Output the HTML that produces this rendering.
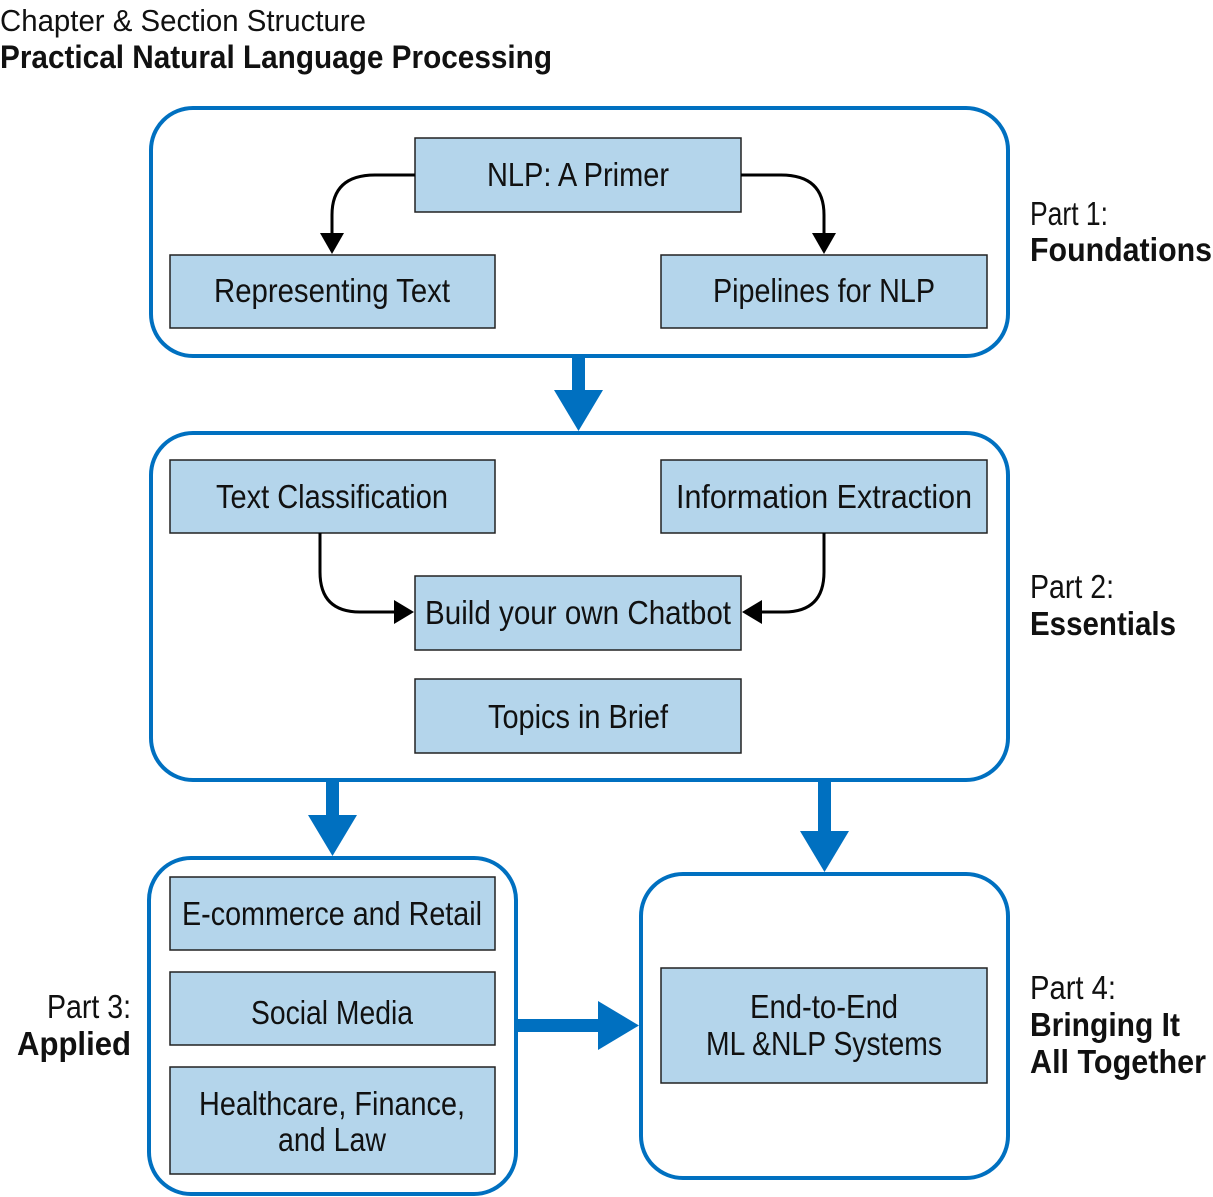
<!DOCTYPE html>
<html><head><meta charset="utf-8"><style>
html,body{margin:0;padding:0;background:#fff;}
svg{display:block;}
text{font-family:"Liberation Sans Narrow","Liberation Sans",sans-serif;fill:#111;}
.b{font-weight:bold;}
</style></head><body>
<svg width="1213" height="1197" viewBox="0 0 1213 1197" xmlns="http://www.w3.org/2000/svg">
<text x="0" y="31" font-size="31" textLength="366" lengthAdjust="spacingAndGlyphs">Chapter &amp; Section Structure</text>
<text x="0" y="68" font-size="32" class="b" textLength="552" lengthAdjust="spacingAndGlyphs">Practical Natural Language Processing</text>

<g fill="none" stroke="#0070c0" stroke-width="4">
<rect x="151" y="108" width="857" height="248" rx="42"/>
<rect x="151" y="433" width="857" height="347" rx="42"/>
<rect x="149" y="858" width="367" height="336" rx="42"/>
<rect x="641" y="874" width="367" height="304" rx="42"/>
</g>

<g fill="#0070c0">
<rect x="572" y="357" width="13" height="36"/><path d="M554,390 L603,390 L578.5,431 z"/>
<rect x="326" y="782" width="13" height="36"/><path d="M308,815 L357,815 L332.5,856 z"/>
<rect x="818" y="782" width="13" height="52"/><path d="M800,831 L849,831 L824.5,872 z"/>
<rect x="518" y="1019" width="84" height="13"/><path d="M598,1001 L598,1050 L639,1025.5 z"/>
</g>

<g fill="#b4d5eb" stroke="#222" stroke-width="1.5">
<rect x="415" y="138" width="326" height="74"/>
<rect x="170" y="255" width="325" height="73"/>
<rect x="661" y="255" width="326" height="73"/>
<rect x="170" y="460" width="325" height="73"/>
<rect x="661" y="460" width="326" height="73"/>
<rect x="415" y="576" width="326" height="74"/>
<rect x="415" y="679" width="326" height="74"/>
<rect x="170" y="877" width="325" height="73"/>
<rect x="170" y="972" width="325" height="73"/>
<rect x="170" y="1067" width="325" height="107"/>
<rect x="661" y="968" width="326" height="115"/>
</g>

<g fill="none" stroke="#000" stroke-width="3">
<path d="M415,175 L375,175 Q332,175 332,215 L332,236"/>
<path d="M741,175 L781,175 Q824,175 824,215 L824,236"/>
<path d="M320,533 L320,572 Q320,612 360,612 L398,612"/>
<path d="M824,533 L824,572 Q824,612 784,612 L758,612"/>
</g>
<g fill="#000">
<path d="M320,233 L344,233 L332,254 z"/>
<path d="M812,233 L836,233 L824,254 z"/>
<path d="M414,612 L394,600 L394,624 z"/>
<path d="M742,612 L762,600 L762,624 z"/>
</g>

<g font-size="33" text-anchor="middle">
<text x="578" y="186" textLength="182" lengthAdjust="spacingAndGlyphs">NLP: A Primer</text>
<text x="332" y="302" textLength="236" lengthAdjust="spacingAndGlyphs">Representing Text</text>
<text x="824" y="302" textLength="222" lengthAdjust="spacingAndGlyphs">Pipelines for NLP</text>
<text x="332" y="508" textLength="232" lengthAdjust="spacingAndGlyphs">Text Classification</text>
<text x="824" y="508" textLength="296" lengthAdjust="spacingAndGlyphs">Information Extraction</text>
<text x="578" y="624" textLength="306" lengthAdjust="spacingAndGlyphs">Build your own Chatbot</text>
<text x="578" y="728" textLength="180" lengthAdjust="spacingAndGlyphs">Topics in Brief</text>
<text x="332" y="925" textLength="300" lengthAdjust="spacingAndGlyphs">E-commerce and Retail</text>
<text x="332" y="1024" textLength="162" lengthAdjust="spacingAndGlyphs">Social Media</text>
<text x="332" y="1115" textLength="266" lengthAdjust="spacingAndGlyphs">Healthcare, Finance,</text>
<text x="332" y="1151" textLength="108" lengthAdjust="spacingAndGlyphs">and Law</text>
<text x="824" y="1018" textLength="148" lengthAdjust="spacingAndGlyphs">End-to-End</text>
<text x="824" y="1055" textLength="236" lengthAdjust="spacingAndGlyphs">ML &amp;NLP Systems</text>
</g>

<g font-size="33">
<text x="1030" y="225" textLength="78" lengthAdjust="spacingAndGlyphs">Part 1:</text>
<text x="1030" y="261" class="b" textLength="182" lengthAdjust="spacingAndGlyphs">Foundations</text>
<text x="1030" y="598" textLength="84" lengthAdjust="spacingAndGlyphs">Part 2:</text>
<text x="1030" y="635" class="b" textLength="146" lengthAdjust="spacingAndGlyphs">Essentials</text>
<text x="131" y="1018" text-anchor="end" textLength="84" lengthAdjust="spacingAndGlyphs">Part 3:</text>
<text x="131" y="1055" text-anchor="end" class="b" textLength="114" lengthAdjust="spacingAndGlyphs">Applied</text>
<text x="1030" y="999" textLength="86" lengthAdjust="spacingAndGlyphs">Part 4:</text>
<text x="1030" y="1036" class="b" textLength="150" lengthAdjust="spacingAndGlyphs">Bringing It</text>
<text x="1030" y="1073" class="b" textLength="176" lengthAdjust="spacingAndGlyphs">All Together</text>
</g>
</svg>
</body></html>
